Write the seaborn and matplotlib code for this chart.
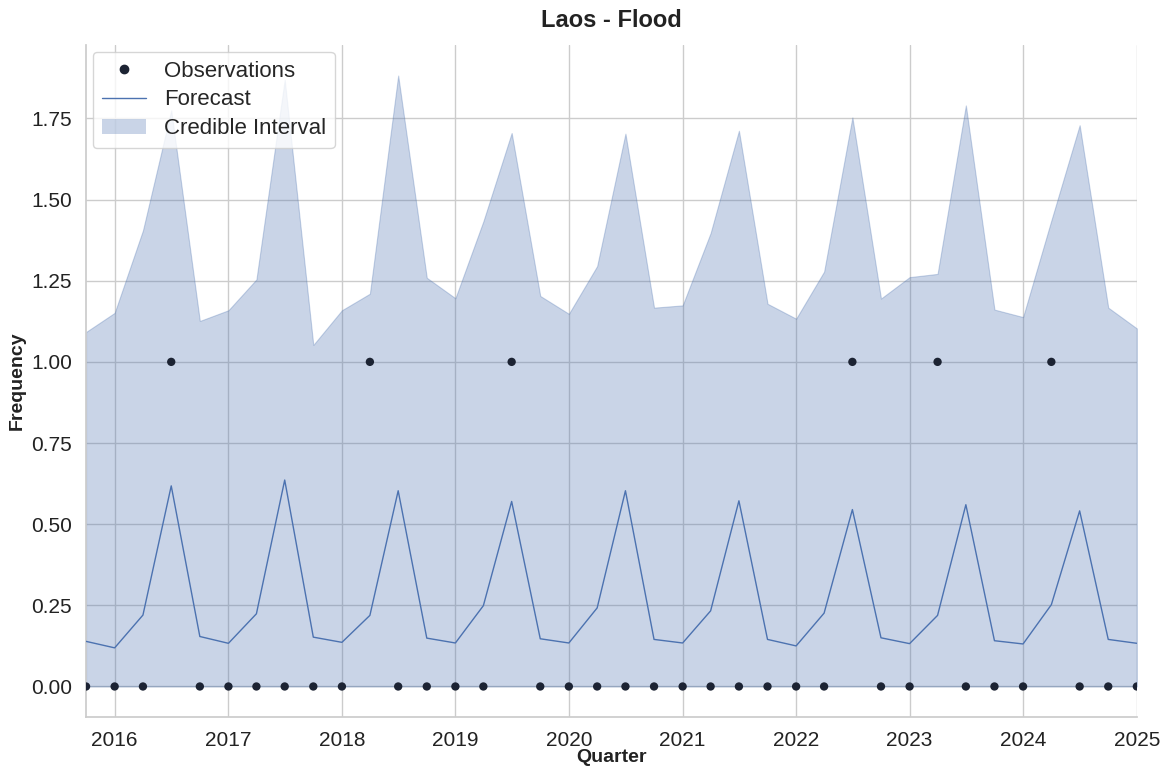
import matplotlib
matplotlib.use("Agg")
import matplotlib.pyplot as plt
import matplotlib.dates as mdates
import numpy as np
import pandas as pd
import seaborn as sns
from matplotlib.patches import Patch
from matplotlib.lines import Line2D

# Quarterly series, Q4 2015 through Q1 2025
quarters = pd.date_range("2015-10-01", "2025-01-01", freq="QS")

observed = [0, 0, 0, 1, 0, 0, 0, 0, 0, 0, 1, 0, 0, 0, 0, 1, 0, 0, 0, 0,
            0, 0, 0, 0, 0, 0, 0, 1, 0, 0, 1, 0, 0, 0, 1, 0, 0, 0]

forecast = [0.139, 0.119, 0.220, 0.618, 0.154, 0.133, 0.224, 0.636, 0.152, 0.136,
            0.219, 0.603, 0.149, 0.134, 0.249, 0.570, 0.147, 0.134, 0.242, 0.603,
            0.145, 0.134, 0.233, 0.572, 0.145, 0.125, 0.226, 0.545, 0.150, 0.132,
            0.219, 0.560, 0.141, 0.131, 0.252, 0.541, 0.145, 0.133]

upper = [1.092, 1.151, 1.405, 1.775, 1.126, 1.159, 1.254, 1.869, 1.052, 1.159,
         1.210, 1.882, 1.259, 1.196, 1.433, 1.705, 1.203, 1.148, 1.295, 1.703,
         1.167, 1.174, 1.397, 1.712, 1.179, 1.133, 1.278, 1.753, 1.195, 1.261,
         1.271, 1.790, 1.161, 1.138, 1.436, 1.729, 1.167, 1.103]

lower = [0.0] * len(quarters)

df = pd.DataFrame({"Quarter": quarters, "Observed": observed,
                   "Forecast": forecast, "Upper": upper, "Lower": lower})

sns.set_theme(style="whitegrid")
plt.rcParams["font.family"] = ["Liberation Sans", "DejaVu Sans"]

blue = "#4c72b0"
dot = "#1c2333"

fig = plt.figure(figsize=(11.66, 7.72), dpi=100)
ax = fig.add_axes([0.0738, 0.0712, 0.9012, 0.8705])

ax.fill_between(df["Quarter"], df["Lower"], df["Upper"], color=blue,
                alpha=0.3, linewidth=0.8, zorder=2)
sns.lineplot(data=df, x="Quarter", y="Forecast", ax=ax, color=blue,
             linewidth=1.0, zorder=3)
sns.scatterplot(data=df, x="Quarter", y="Observed", ax=ax, color=dot,
                s=36, edgecolor="none", zorder=4)

ax.set_xlim(df["Quarter"].iloc[0], df["Quarter"].iloc[-1])
ax.xaxis.set_major_locator(mdates.YearLocator())
ax.xaxis.set_major_formatter(mdates.DateFormatter("%Y"))
ax.tick_params(axis="both", labelsize=15, pad=4, colors="#222222")

ax.set_title("Laos - Flood", fontsize=17, fontweight="bold", pad=13,
             color="#222222")
ax.set_xlabel("Quarter", fontsize=14, fontweight="bold", labelpad=-1,
              color="#222222")
ax.set_ylabel("Frequency", fontsize=14, fontweight="bold", labelpad=4,
              color="#222222")

sns.despine(ax=ax)
for s in ("left", "bottom"):
    ax.spines[s].set_color("#cccccc")

handles = [
    Line2D([], [], marker="o", linestyle="none", color=dot, markersize=6),
    Line2D([], [], color=blue, linewidth=1.0),
    Patch(facecolor=blue, alpha=0.3, edgecolor="none"),
]
ax.legend(handles, ["Observations", "Forecast", "Credible Interval"],
          loc="upper left", fontsize=16, frameon=True, framealpha=0.8,
          borderaxespad=0.3, handlelength=2.0, labelspacing=0.35)

fig.savefig("out.png", dpi=100)
